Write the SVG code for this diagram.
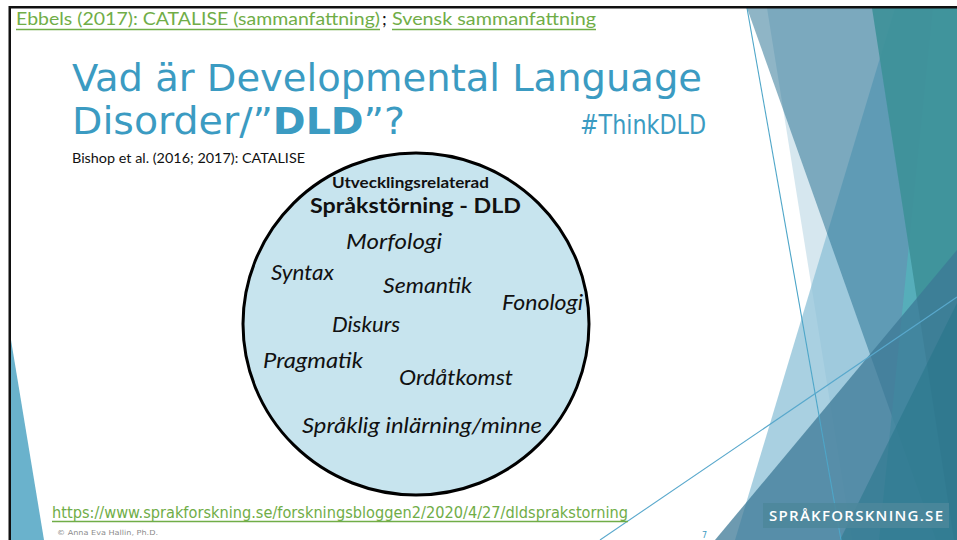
<svg xmlns="http://www.w3.org/2000/svg" width="957" height="540" viewBox="0 0 957 540">
<style>
.cal{font-family:Lato,"Liberation Sans",sans-serif}
.link{fill:#70AD47}
.ul{stroke:#70AD47;stroke-width:1.4}
.ttl{font-family:"DejaVu Sans",sans-serif;font-stretch:condensed;fill:#3B9BC2}
.it{font-family:Lato,"Liberation Sans",sans-serif;font-style:italic;font-size:21px;fill:#111}
.thin{fill:none;stroke-width:1.1}
</style>
<rect width="957" height="540" fill="#fff"/>
<g id="decor">
  <polygon points="767,8 957,8 957,540 852,540" fill="rgb(90,160,190)" fill-opacity="0.25"/>
  <polygon points="895,8 957,8 957,540 735,540" fill="rgb(140,192,215)" fill-opacity="0.75"/>
  <polygon points="747,8 957,8 957,540 936,540" fill="rgb(31,107,141)" fill-opacity="0.5"/>
  <polygon points="933,8 957,8 957,540 879,540" fill="rgb(83,182,188)" fill-opacity="0.7"/>
  <polygon points="872,8 957,8 957,540 954,540" fill="rgb(62,145,153)" fill-opacity="0.92"/>
  <polygon points="715,540 957,250 957,540" fill="rgb(60,120,150)" fill-opacity="0.75"/>
  <polygon points="840,540 957,303 957,540" fill="rgb(35,115,135)" fill-opacity="0.5"/>
  <line class="thin" x1="747" y1="8" x2="841" y2="540" stroke="#4EA6C8"/>
  <line class="thin" x1="600" y1="540" x2="957" y2="297" stroke="#59A8CC"/>
  <polygon points="11,340 44,540 11,540" fill="#6AB2CC"/>
  <rect x="763" y="503" width="186" height="25" fill="#4C879B" fill-opacity="0.85"/>
  <text x="769" y="521" font-family="'Open Sans','Liberation Sans',sans-serif" font-weight="600" font-size="15" fill="#fff" textLength="174" lengthAdjust="spacing">SPRÅKFORSKNING.SE</text>
</g>
<path d="M9.75,540 V7.25 H957" fill="none" stroke="#111" stroke-width="2.5"/>
<g id="header" class="cal" font-size="18">
  <text x="16" y="25" class="link" textLength="364" lengthAdjust="spacingAndGlyphs">Ebbels (2017): CATALISE (sammanfattning)</text>
  <text x="382" y="25" fill="#111">;</text>
  <text x="392" y="25" class="link" textLength="204" lengthAdjust="spacingAndGlyphs">Svensk sammanfattning</text>
  <line class="ul" x1="16" y1="29.5" x2="380" y2="29.5"/>
  <line class="ul" x1="392" y1="29.5" x2="596" y2="29.5"/>
</g>
<g id="title" class="ttl">
  <text x="72" y="91" font-size="37" textLength="630" lengthAdjust="spacingAndGlyphs">Vad är Developmental Language</text>
  <text x="72" y="134" font-size="37" textLength="333" lengthAdjust="spacingAndGlyphs">Disorder/”<tspan font-weight="bold">DLD</tspan>”?</text>
  <text x="580" y="134" font-size="26" textLength="126" lengthAdjust="spacingAndGlyphs">#ThinkDLD</text>
</g>
<text id="source" class="cal" x="72" y="163" font-size="13" fill="#111" textLength="233" lengthAdjust="spacingAndGlyphs">Bishop et al. (2016; 2017): CATALISE</text>
<g id="circle">
  <ellipse cx="416" cy="324" rx="173" ry="171" fill="#C7E4EE" stroke="#000" stroke-width="3"/>
  <text class="cal" x="332" y="188" font-size="15" font-weight="bold" fill="#111" textLength="157" lengthAdjust="spacingAndGlyphs">Utvecklingsrelaterad</text>
  <text class="cal" x="310" y="213" font-size="21" font-weight="bold" fill="#111" textLength="211" lengthAdjust="spacingAndGlyphs">Språkstörning - DLD</text>
  <text class="it" x="346" y="249" textLength="96" lengthAdjust="spacingAndGlyphs">Morfologi</text>
  <text class="it" x="271" y="280" textLength="63" lengthAdjust="spacingAndGlyphs">Syntax</text>
  <text class="it" x="383" y="293" textLength="89" lengthAdjust="spacingAndGlyphs">Semantik</text>
  <text class="it" x="502" y="310" textLength="81" lengthAdjust="spacingAndGlyphs">Fonologi</text>
  <text class="it" x="332" y="332" textLength="68" lengthAdjust="spacingAndGlyphs">Diskurs</text>
  <text class="it" x="263" y="368" textLength="100" lengthAdjust="spacingAndGlyphs">Pragmatik</text>
  <text class="it" x="399" y="385" textLength="114" lengthAdjust="spacingAndGlyphs">Ordåtkomst</text>
  <text class="it" x="302" y="433" textLength="240" lengthAdjust="spacingAndGlyphs">Språklig inlärning/minne</text>
</g>
<g id="footer">
  <text x="52" y="518" font-family="'DejaVu Sans',sans-serif" font-stretch="condensed" font-size="15" class="link" textLength="576" lengthAdjust="spacingAndGlyphs">https://www.sprakforskning.se/forskningsbloggen2/2020/4/27/dldsprakstorning</text>
  <line class="ul" x1="52" y1="521.5" x2="628" y2="521.5"/>
  <text x="57" y="535" font-family="'DejaVu Sans',sans-serif" font-size="7" fill="#8C8C8C" textLength="101" lengthAdjust="spacingAndGlyphs">© Anna Eva Hallin, Ph.D.</text>
  <text x="702" y="538" font-family="'DejaVu Sans',sans-serif" font-size="8" fill="#3B9BC2">7</text>
</g>
</svg>
